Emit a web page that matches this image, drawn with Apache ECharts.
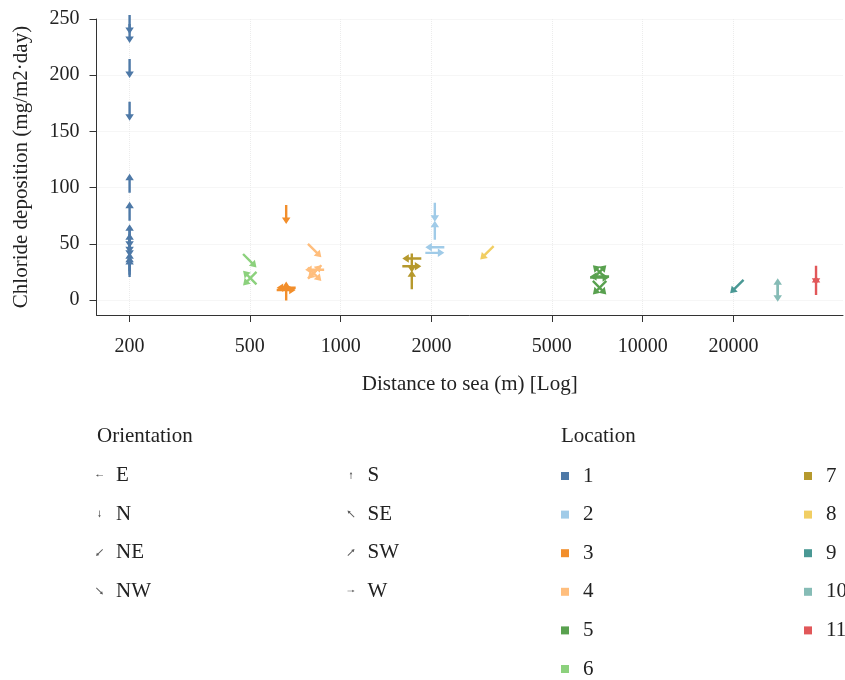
<!DOCTYPE html>
<html>
<head>
<meta charset="utf-8">
<script src="https://cdn.jsdelivr.net/npm/echarts@6/dist/echarts.min.js"></script>
<style>
html,body{margin:0;padding:0;background:#fff;}
#chart{width:845px;height:680px;}
</style>
</head>
<body>
<div id="chart"></div>
<script>
// ---- data ----
const locations = ['1','2','3','4','5','6','7','8','9','10','11'];
const locationColors = ['#4e79a7','#a0cbe8','#f28e2b','#ffbe7d','#59a14f','#8cd17d','#b6992d','#f1ce63','#499894','#86bcb6','#e15759'];
const distances = [200, 2050, 660, 820, 7200, 500, 1720, 3050, 20500, 28000, 37500];
const orientations = ['E','N','NE','NW','S','SE','SW','W'];
const xTicks = [200, 500, 1000, 2000, 5000, 10000, 20000];
const yTicks = [0, 50, 100, 150, 200, 250];

// observations: location, orientation, chloride deposition
const obsLocation = [
  '1','1','1','1','1','1','1','1','1','1','1','1','1','1',
  '2','2','2','2',
  '3','3','3','3',
  '4','4','4','4','4',
  '5','5','5','5','5','5',
  '6','6','6',
  '7','7','7','7',
  '8',
  '9',
  '10','10',
  '11','11'
];
const obsOrientation = [
  'N','N','N','N','S','S','S','S','N','N','N','S','S','S',
  'N','S','E','W',
  'N','S','E','W',
  'NW','SW','NW','E','NE',
  'SE','SW','E','W','NE','NW',
  'NW','SE','NE',
  'E','W','N','S',
  'NE',
  'NE',
  'S','N',
  'N','S'
];
const obsValue = [
  245, 237, 206, 168, 104, 79, 59, 51, 55, 50, 47, 34, 31, 29,
  78, 62, 47, 42,
  76, 8, 11, 9,
  44, 25, 23, 27, 25,
  25, 25, 21, 20, 11, 11,
  35, 20, 19,
  37, 30, 33, 18,
  42,
  12,
  11, 7,
  22, 13
];

// ---- glyph geometry ----
// clockwise screen angle of the arrow direction for each orientation
const dirAngle = {S:0, SW:45, W:90, NW:135, N:180, NE:225, E:270, SE:315};
const upArrow = 'path://M4.25,0 L8.5,6.5 L5.45,6.5 L5.45,19 L3.05,19 L3.05,6.5 L0,6.5 Z';
function arrowPathRot(deg){
  const pts = [[0,-9.5],[3.5,-3.5],[0.9,-3.5],[0.9,9.5],[-0.9,9.5],[-0.9,-3.5],[-3.5,-3.5]];
  const t = deg*Math.PI/180, c=Math.cos(t), s=Math.sin(t);
  return 'path://' + pts.map((p,i)=>{
    const x = p[0]*c - p[1]*s, y = p[0]*s + p[1]*c;
    return (i?'L':'M') + x.toFixed(3) + ',' + y.toFixed(3);
  }).join(' ') + ' Z';
}

const FONT = 'Liberation Serif';
const TXT = '#222';
const WORD = 21;
const NUM = 20;

const series = locations.map((loc, li) => {
  const data = [];
  obsLocation.forEach((l, i) => {
    if (l === loc) data.push([distances[li], obsValue[i], obsOrientation[i]]);
  });
  return {
    name: loc,
    type: 'scatter',
    data: data,
    symbol: upArrow,
    symbolSize: [8.5, 19],
    symbolRotate: function (v) { return -dirAngle[v[2]]; },
    itemStyle: {color: locationColors[li], opacity: 1},
    emphasis: {disabled: true},
    z: 3
  };
});
orientations.forEach(o => {
  series.push({name: o, type: 'scatter', data: [], itemStyle: {color: '#333'}});
});

function oriLegend(names, left){
  return {
    orient: 'vertical', left: left, top: 465, padding: 0,
    itemWidth: 7, itemHeight: 7, itemGap: 17.5,
    data: names.map(n => ({name: n, icon: arrowPathRot(dirAngle[n])})),
    textStyle: {fontFamily: FONT, fontSize: WORD, color: TXT, lineHeight: 21, padding: [0,0,0,8]},
    selectedMode: false
  };
}
function locLegend(names, left){
  return {
    orient: 'vertical', left: left, top: 465.5, padding: 0,
    itemWidth: 8, itemHeight: 8, itemGap: 17.6,
    icon: 'rect',
    data: names,
    textStyle: {fontFamily: FONT, fontSize: WORD, color: TXT, lineHeight: 21, padding: [0,0,0,9]},
    selectedMode: false
  };
}

const option = {
  animation: false,
  backgroundColor: '#fff',
  title: [
    {text: 'Orientation', left: 97, top: 426, padding: 0,
     textStyle: {fontFamily: FONT, fontSize: WORD, fontWeight: 'normal', color: TXT}},
    {text: 'Location', left: 561, top: 426, padding: 0,
     textStyle: {fontFamily: FONT, fontSize: WORD, fontWeight: 'normal', color: TXT}}
  ],
  legend: [
    oriLegend(['E','N','NE','NW'], 96),
    oriLegend(['S','SE','SW','W'], 347.5),
    locLegend(['1','2','3','4','5','6'], 561),
    locLegend(['7','8','9','10','11'], 804)
  ],
  grid: {left: 96.5, right: 2, top: 19, bottom: 365},
  xAxis: {
    type: 'log', logBase: 10, min: 155.4, max: 46060,
    name: 'Distance to sea (m) [Log]', nameLocation: 'middle', nameGap: 59,
    nameTextStyle: {fontFamily: FONT, fontSize: WORD, color: TXT},
    axisLine: {show: true, onZero: false, lineStyle: {color: '#333', width: 1}},
    axisTick: {show: true, length: 7, customValues: xTicks, lineStyle: {color: '#333'}},
    axisLabel: {customValues: xTicks, margin: 22, fontFamily: FONT, fontSize: NUM, color: TXT,
      formatter: v => String(Math.round(v))},
    splitLine: {show: true, lineStyle: {color: '#ececec', type: 'dotted'}},
    minorTick: {show: false}, minorSplitLine: {show: false}
  },
  yAxis: {
    type: 'value', min: -13.3, max: 250,
    name: 'Chloride deposition (mg/m2·day)', nameLocation: 'middle', nameGap: 65,
    nameTextStyle: {fontFamily: FONT, fontSize: WORD, color: TXT},
    axisLine: {show: true, lineStyle: {color: '#333', width: 1}},
    axisTick: {show: true, length: 7, customValues: yTicks, lineStyle: {color: '#333'}},
    axisLabel: {customValues: yTicks, margin: 17, fontFamily: FONT, fontSize: NUM, color: TXT},
    splitLine: {show: true, lineStyle: {color: '#ececec', type: 'dotted'}}
  },
  series: series
};

const chart = echarts.init(document.getElementById('chart'), null, {renderer: 'canvas'});
chart.setOption(option);
</script>
</body>
</html>
